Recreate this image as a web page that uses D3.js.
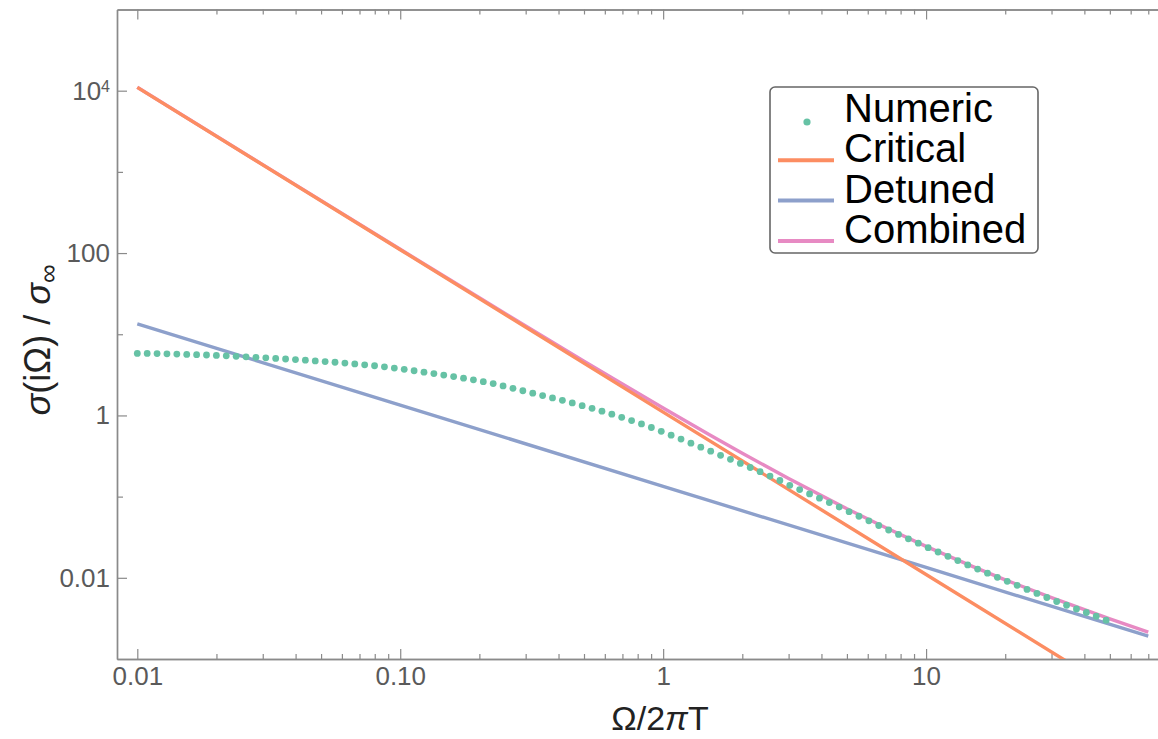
<!DOCTYPE html>
<html>
<head>
<meta charset="utf-8">
<script src="https://cdn.jsdelivr.net/npm/d3@7/dist/d3.min.js"></script>
<style>
  html, body { margin: 0; padding: 0; background: #fff; }
  svg { display: block; font-family: "Liberation Sans", Arial, sans-serif; }
</style>
</head>
<body>
<svg id="chart" width="1158" height="739"></svg>
<script>
// ---------- data ----------
const numericX = [0.01,0.010904,0.01189,0.012965,0.014138,0.015417,0.01681,0.01833,0.019988,0.021795,
  0.023768,0.025917,0.02826,0.030816,0.033604,0.036644,0.039957,0.043572,0.047511,0.051807,
  0.056494,0.061601,0.067171,0.073246,0.07987,0.087096,0.09497,0.10356,0.11292,0.12313,
  0.13428,0.14642,0.15966,0.1741,0.18984,0.20701,0.22572,0.24614,0.2684,0.29266,
  0.31915,0.348,0.37946,0.41378,0.4512,0.49204,0.53654,0.58505,0.63797,0.69566,
  0.75858,0.82719,0.902,0.98356,1.0725,1.1695,1.2753,1.3906,1.5164,1.6536,
  1.803,1.9661,2.1439,2.3378,2.5492,2.7797,3.0311,3.3053,3.6043,3.9302,
  4.2855,4.6731,5.0957,5.5566,6.0591,6.6069,7.2045,7.856,8.5664,9.3412,
  10.186,11.107,12.111,13.206,14.401,15.704,17.123,18.672,20.361,22.202,
  24.21,26.4,28.788,31.391,34.23,37.325,40.701,44.382,48.396];
const numericY = [5.797,5.797,5.780,5.747,5.698,5.649,5.601,5.554,5.491,5.430,
  5.353,5.278,5.204,5.131,5.044,4.959,4.876,4.793,4.699,4.607,
  4.517,4.415,4.316,4.207,4.090,3.965,3.832,3.693,3.550,3.411,
  3.279,3.143,3.011,2.878,2.743,2.606,2.470,2.307,2.156,2.014,
  1.882,1.758,1.642,1.534,1.425,1.320,1.223,1.130,1.037,0.948,
  0.865,0.786,0.710,0.637,0.571,0.511,0.456,0.407,0.3625,0.3228,
  0.2883,0.2566,0.2284,0.2028,0.1790,0.1580,0.1379,0.1221,0.1081,0.0957,
  0.0845,0.0744,0.0653,0.0573,0.0503,0.0441,0.0388,0.0342,0.0302,0.0267,
  0.0235,0.0208,0.0184,0.0163,0.0144,0.0128,0.0114,0.01014,0.00906,0.00809,
  0.00720,0.00643,0.00572,0.00511,0.00459,0.00414,0.00374,0.00336,0.00301];

const criticalX = [0.01, 0.1, 1, 10, 70];
const criticalY = [11000, 110, 1.1, 0.011, 0.000224];

const detunedX = [0.01, 0.1, 1, 10, 70];
const detunedY = [13.4, 1.34, 0.134, 0.0134, 0.00191];

const combinedX = [0.01, 0.03, 0.1, 0.2, 0.3, 0.5, 0.7, 1, 1.5, 2, 3, 5, 7, 10, 15, 20, 30, 50, 70];
const combinedY = [11013, 1227, 111.3, 28.17, 12.67, 4.668, 2.436, 1.234, 0.578, 0.342, 0.1669,
  0.0708, 0.0416, 0.0244, 0.01382, 0.00945, 0.00569, 0.00312, 0.00214];

const xMajorTicks = [0.01, 0.1, 1, 10];
const xMajorLabels = ["0.01", "0.10", "1", "10"];
const xMinorTicks = [0.02,0.03,0.04,0.05,0.06,0.07,0.08,0.09,
  0.2,0.3,0.4,0.5,0.6,0.7,0.8,0.9, 2,3,4,5,6,7,8,9, 20,30,40,50,60,70,80,90];
const yMajorTicks = [0.01, 1, 100, 10000];
const yMajorLabels = ["0.01", "1", "100", "10|4"];
const yMinorTicks = [0.1, 10, 1000];

const legendLabels = ["Numeric", "Critical", "Detuned", "Combined"];
const colors = { numeric: "#66c2a5", critical: "#fc8d62", detuned: "#8da0cb", combined: "#e78ac3" };

// ---------- layout ----------
const svg = d3.select("#chart");
const pLeft = 117, pRight = 1189, pTop = 9.5, pBottom = 659;

const x = d3.scaleLog().domain([Math.pow(10, -2.0772), 100]).range([pLeft, pRight]);
const y = d3.scaleLog().domain([1e-3, 1e5]).range([pBottom, pTop]);

svg.append("defs").append("clipPath").attr("id", "plotclip")
  .append("rect").attr("x", pLeft).attr("y", pTop).attr("width", pRight - pLeft).attr("height", pBottom - pTop);

const axisColor = "#8a8a8a";
const labelColor = "#5a5a5a";

function styleAxis(g) {
  g.select(".domain").attr("stroke", axisColor).attr("stroke-width", 1.4);
  g.selectAll(".tick line").attr("stroke", axisColor).attr("stroke-width", 1.2);
  g.selectAll(".tick text").attr("fill", labelColor).style("font-size", "26px")
    .style("font-family", "'Liberation Sans', Arial, sans-serif");
}

// bottom axis
const gxMinor = svg.append("g").attr("transform", `translate(0,${pBottom})`)
  .call(d3.axisBottom(x).tickValues(xMinorTicks).tickSize(-5).tickSizeOuter(0).tickFormat(""));
styleAxis(gxMinor);
const gx = svg.append("g").attr("transform", `translate(0,${pBottom})`)
  .call(d3.axisBottom(x).tickValues(xMajorTicks).tickSize(-10).tickSizeOuter(0).tickPadding(8)
    .tickFormat((d, i) => xMajorLabels[i]));
styleAxis(gx);

// top axis (frame)
const gtMinor = svg.append("g").attr("transform", `translate(0,${pTop})`)
  .call(d3.axisTop(x).tickValues(xMinorTicks).tickSize(-5).tickSizeOuter(0).tickFormat(""));
styleAxis(gtMinor);
const gt = svg.append("g").attr("transform", `translate(0,${pTop})`)
  .call(d3.axisTop(x).tickValues(xMajorTicks).tickSize(-10).tickSizeOuter(0).tickFormat(""));
styleAxis(gt);

// left axis
const gyMinor = svg.append("g").attr("transform", `translate(${pLeft},0)`)
  .call(d3.axisLeft(y).tickValues(yMinorTicks).tickSize(-6).tickSizeOuter(0).tickFormat(""));
styleAxis(gyMinor);
const gy = svg.append("g").attr("transform", `translate(${pLeft},0)`)
  .call(d3.axisLeft(y).tickValues(yMajorTicks).tickSize(-10).tickSizeOuter(0).tickPadding(7)
    .tickFormat((d, i) => yMajorLabels[i]));
styleAxis(gy);
gy.selectAll(".tick text").each(function (d, i) {
  const t = d3.select(this);
  const parts = yMajorLabels[i].split("|");
  t.text(parts[0]);
  if (parts[1]) {
    t.append("tspan").attr("dy", "-0.45em").style("font-size", "16px").text(parts[1]);
  }
});

// ---------- series ----------
const plot = svg.append("g").attr("clip-path", "url(#plotclip)");
const line = d3.line().x(d => x(d[0])).y(d => y(d[1]));

function drawLine(xs, ys, color) {
  plot.append("path")
    .datum(xs.map((v, i) => [v, ys[i]]))
    .attr("fill", "none").attr("stroke", color).attr("stroke-width", 3.4)
    .attr("stroke-linejoin", "round")
    .attr("d", line);
}
drawLine(combinedX, combinedY, colors.combined);
drawLine(detunedX, detunedY, colors.detuned);
drawLine(criticalX, criticalY, colors.critical);

plot.selectAll("circle.num").data(numericX.map((v, i) => [v, numericY[i]]))
  .join("circle").attr("class", "num")
  .attr("cx", d => x(d[0])).attr("cy", d => y(d[1])).attr("r", 3.4)
  .attr("fill", colors.numeric);

// ---------- axis titles ----------
svg.append("text")
  .attr("x", 660).attr("y", 730).attr("text-anchor", "middle")
  .style("font-size", "34px").attr("fill", "#222")
  .html('Ω/2<tspan font-style="italic">π</tspan>T');

svg.append("text")
  .attr("transform", "translate(50,340) rotate(-90)").attr("text-anchor", "middle")
  .style("font-size", "36px").attr("fill", "#222")
  .html('<tspan font-style="italic">σ</tspan>(iΩ) / <tspan font-style="italic">σ</tspan><tspan dy="0.25em" font-size="26px">∞</tspan>');

// ---------- legend ----------
const lg = svg.append("g");
lg.append("rect").attr("x", 770).attr("y", 87).attr("width", 268).attr("height", 166)
  .attr("rx", 5).attr("fill", "#fff").attr("stroke", "#666").attr("stroke-width", 1.6);
const legendColors = [colors.numeric, colors.critical, colors.detuned, colors.combined];
legendLabels.forEach((lab, i) => {
  const base = 122 + i * 40.3;
  if (i === 0) {
    lg.append("circle").attr("cx", 807).attr("cy", base).attr("r", 3.6).attr("fill", legendColors[i]);
  } else {
    lg.append("line").attr("x1", 778).attr("x2", 834).attr("y1", base - 2).attr("y2", base - 2)
      .attr("stroke", legendColors[i]).attr("stroke-width", 4);
  }
  lg.append("text").attr("x", 844).attr("y", base).style("font-size", "40px").attr("fill", "#000").text(lab);
});
</script>
</body>
</html>
